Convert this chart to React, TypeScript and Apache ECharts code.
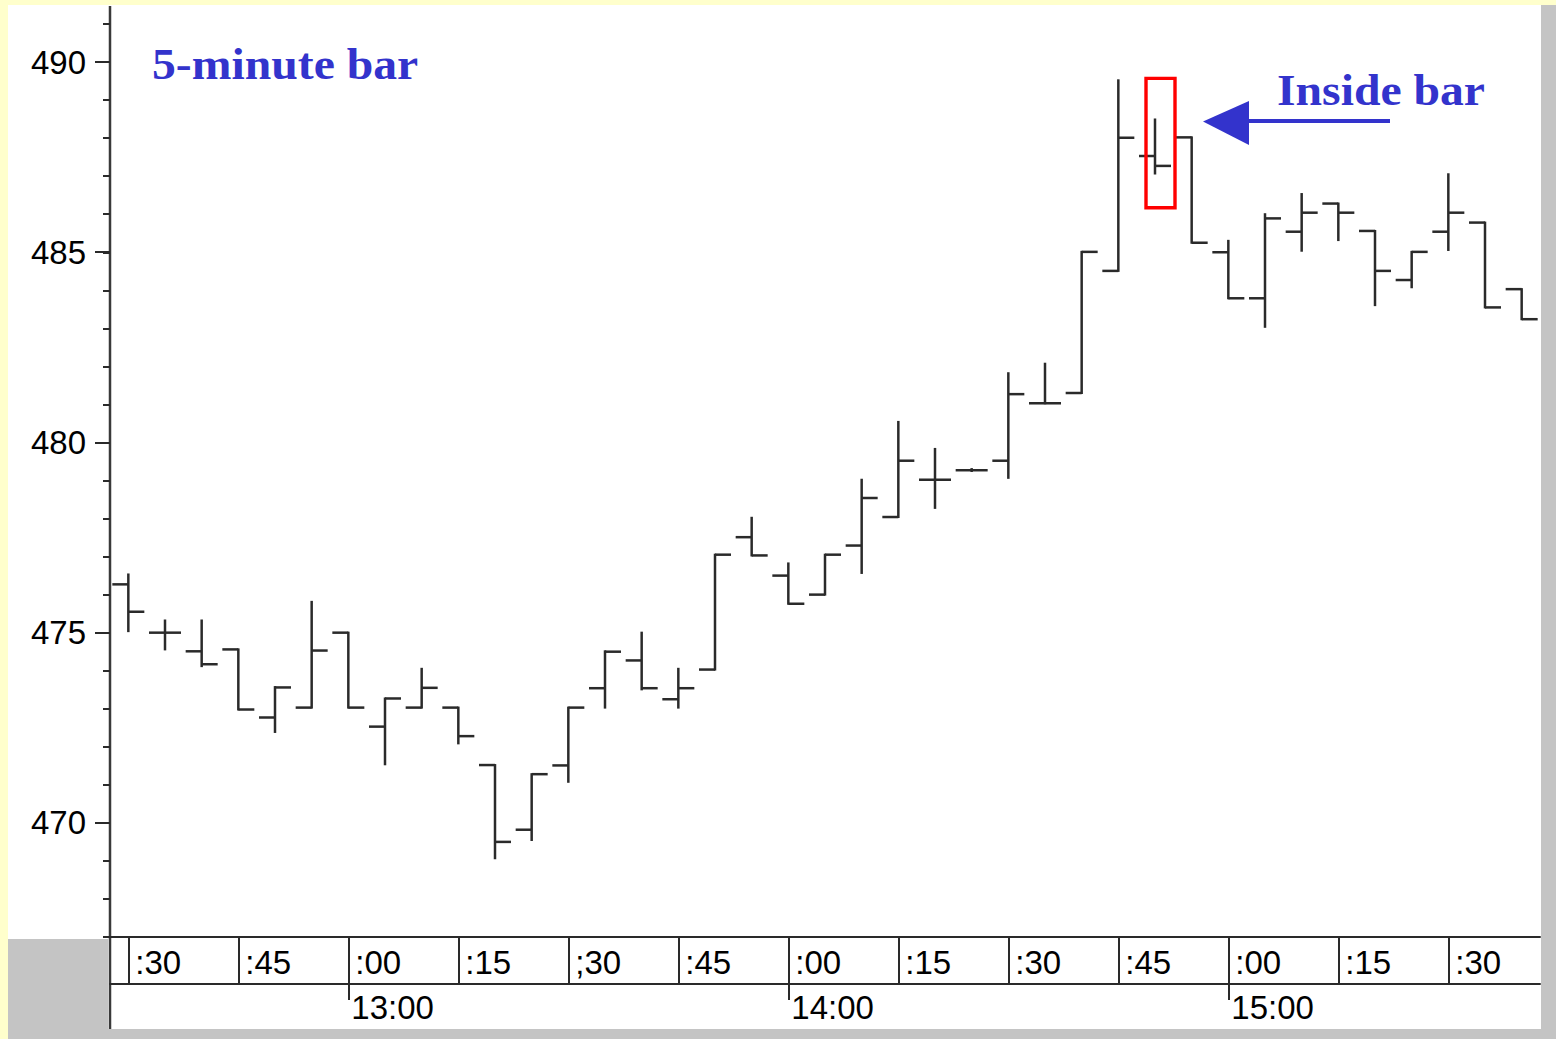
import React, { useEffect, useRef } from "react";
import * as echarts from "echarts";

// 5-minute bars, 12:30 – 15:40
const times = [
  "12:30", "12:35", "12:40", "12:45", "12:50", "12:55",
  "13:00", "13:05", "13:10", "13:15", "13:20", "13:25",
  "13:30", "13:35", "13:40", "13:45", "13:50", "13:55",
  "14:00", "14:05", "14:10", "14:15", "14:20", "14:25",
  "14:30", "14:35", "14:40", "14:45", "14:50", "14:55",
  "15:00", "15:05", "15:10", "15:15", "15:20", "15:25",
  "15:30", "15:35", "15:40",
];

const opens = [
  476.27, 475.0, 474.51, 474.56, 472.77, 473.03,
  475.0, 472.53, 473.03, 473.03, 471.52, 469.82,
  471.51, 473.54, 474.27, 473.25, 474.03, 477.51,
  476.5, 476.0, 477.29, 478.04, 479.02, 479.27,
  479.52, 481.03, 481.3, 484.51, 487.53, 488.02,
  485.0, 483.79, 485.54, 486.28, 485.56, 484.27,
  485.54, 485.78, 484.03,
];
const highs = [
  476.53, 475.32, 475.32, 474.56, 473.57, 475.81,
  475.0, 473.27, 474.05, 473.03, 471.52, 471.28,
  473.03, 474.51, 475.0, 474.05, 477.05, 478.02,
  476.82, 477.05, 479.02, 480.54, 479.83, 479.3,
  481.82, 482.07, 485.01, 489.52, 488.49, 488.02,
  485.3, 486.0, 486.53, 486.28, 485.56, 485.01,
  487.05, 485.78, 484.03,
];
const lows = [
  475.04, 474.56, 474.12, 472.98, 472.39, 473.03,
  473.03, 471.54, 473.03, 472.09, 469.07, 469.55,
  471.08, 473.03, 473.51, 473.03, 474.03, 477.03,
  475.76, 476.0, 476.57, 478.04, 478.28, 479.25,
  479.07, 481.03, 481.3, 484.51, 487.07, 485.25,
  483.79, 483.04, 485.04, 485.32, 483.61, 484.08,
  485.06, 483.55, 483.24,
];
const closes = [
  475.55, 475.0, 474.17, 472.98, 473.56, 474.53,
  473.03, 473.27, 473.55, 472.28, 469.5, 471.28,
  473.03, 474.5, 473.54, 473.54, 477.05, 477.03,
  475.76, 477.05, 478.54, 479.52, 479.02, 479.27,
  481.27, 481.03, 485.01, 488.01, 487.27, 485.25,
  483.79, 485.89, 486.04, 486.04, 484.51, 485.01,
  486.04, 483.55, 483.24,
];

// bottom axis tick labels (as printed in the original, including its ";30")
const minuteTickLabels = [":30", ":45", ":00", ":15", ";30", ":45", ":00", ":15", ":30", ":45", ":00", ":15", ":30"];
const hourLabels = ["13:00", "14:00", "15:00"];

// annotation
const insideBarIndex = 28;
const insideBoxTop = 489.57;
const insideBoxBottom = 486.17;

const INK = "#2a2a2a";
const BLUE = "#3333cc";
const YELLOW = "#ffffcc";
const GRAY = "#c4c4c4";
const SANS = '"Liberation Sans", Arial, sans-serif';
const SERIF = '"Liberation Serif", "Times New Roman", serif';

export default function App() {
  const ref = useRef<HTMLDivElement>(null);

  useEffect(() => {
    document.body.style.margin = "0";
    if (!ref.current) return;
    const chart = echarts.init(ref.current, undefined, { renderer: "svg" });

    const ohlcData = times.map((t, i) => [i, opens[i], highs[i], lows[i], closes[i]]);

    const gridLeft = 110;
    const gridWidth = 1430;
    const g0Top = 24;
    const g0Height = 913; // 491 -> 467
    const unit = g0Height / 24;
    const g1Top = g0Top + unit * 1; // 490
    const g1Height = unit * 20; // 490 -> 470

    const option: any = {
      animation: false,
      backgroundColor: "#ffffff",
      grid: [
        { left: gridLeft, width: gridWidth, top: g0Top, height: g0Height, containLabel: false },
        { left: gridLeft, width: gridWidth, top: g1Top, height: g1Height, containLabel: false },
      ],
      xAxis: [
        {
          type: "category",
          gridIndex: 0,
          position: "bottom",
          data: times,
          boundaryGap: true,
          axisLine: { show: true, lineStyle: { color: INK, width: 2 } },
          axisTick: {
            show: true,
            alignWithLabel: true,
            length: 47,
            interval: (index: number) => index % 3 === 0,
            lineStyle: { color: INK, width: 2 },
          },
          axisLabel: {
            show: true,
            interval: (index: number) => index % 3 === 0,
            formatter: (value: string) => {
              const i = times.indexOf(value);
              return minuteTickLabels[Math.round(i / 3)] ?? "";
            },
            align: "left",
            verticalAlign: "middle",
            padding: [0, 0, 0, 7],
            margin: 25,
            fontSize: 33,
            fontFamily: SANS,
            color: "#000",
          },
          splitLine: { show: false },
        },
        {
          type: "category",
          gridIndex: 0,
          position: "bottom",
          offset: 47,
          data: times,
          boundaryGap: true,
          axisLine: { show: true, lineStyle: { color: INK, width: 2 } },
          axisTick: {
            show: true,
            alignWithLabel: true,
            length: 16,
            interval: (index: number) => times[index].endsWith(":00"),
            lineStyle: { color: INK, width: 2 },
          },
          axisLabel: {
            show: true,
            interval: (index: number) => times[index].endsWith(":00"),
            formatter: (value: string) => {
              const h = hourLabels.indexOf(value);
              return h >= 0 ? hourLabels[h] : "";
            },
            align: "left",
            verticalAlign: "middle",
            padding: [0, 0, 0, 3],
            margin: 23,
            fontSize: 33,
            fontFamily: SANS,
            color: "#000",
          },
          splitLine: { show: false },
        },
        { type: "value", gridIndex: 1, show: false, min: 0, max: 1 },
      ],
      yAxis: [
        {
          type: "value",
          gridIndex: 0,
          min: 467,
          max: 491,
          interval: 1,
          axisLine: { show: false },
          axisTick: { show: true, length: 7, lineStyle: { color: INK, width: 2 } },
          axisLabel: { show: false },
          splitLine: { show: false },
        },
        {
          type: "value",
          gridIndex: 1,
          min: 470,
          max: 490,
          interval: 5,
          axisLine: { show: false },
          axisTick: { show: true, length: 15, lineStyle: { color: INK, width: 2 } },
          axisLabel: {
            show: true,
            margin: 24,
            fontSize: 33,
            fontFamily: SANS,
            color: "#000",
          },
          splitLine: { show: false },
        },
      ],
      series: [
        {
          type: "custom",
          name: "5-minute bar",
          xAxisIndex: 0,
          yAxisIndex: 0,
          silent: true,
          encode: { x: 0, y: [1, 2, 3, 4] },
          data: ohlcData,
          renderItem: (params: any, api: any) => {
            const idx = api.value(0);
            const o = api.coord([idx, api.value(1)]);
            const h = api.coord([idx, api.value(2)]);
            const l = api.coord([idx, api.value(3)]);
            const c = api.coord([idx, api.value(4)]);
            const x = h[0];
            const style = { stroke: INK, lineWidth: 2.5 };
            return {
              type: "group",
              children: [
                { type: "line", shape: { x1: x, y1: h[1] - 1, x2: x, y2: l[1] + 1 }, style },
                { type: "line", shape: { x1: x - 16, y1: o[1], x2: x, y2: o[1] }, style },
                { type: "line", shape: { x1: x, y1: c[1], x2: x + 16, y2: c[1] }, style },
              ],
            };
          },
          z: 3,
        },
        {
          type: "custom",
          name: "Inside bar box",
          xAxisIndex: 0,
          yAxisIndex: 0,
          silent: true,
          encode: { x: 0, y: [1, 2] },
          data: [[insideBarIndex, insideBoxTop, insideBoxBottom]],
          renderItem: (params: any, api: any) => {
            const idx = api.value(0);
            const t = api.coord([idx, api.value(1)]);
            const b = api.coord([idx, api.value(2)]);
            return {
              type: "rect",
              shape: { x: t[0] - 9, y: t[1], width: 29, height: b[1] - t[1] },
              style: { fill: "none", stroke: "#ff0000", lineWidth: 3.4 },
            };
          },
          z: 4,
        },
      ],
      graphic: [
        { type: "rect", silent: true, shape: { x: 0, y: 0, width: 1556, height: 5 }, style: { fill: YELLOW } },
        { type: "rect", silent: true, shape: { x: 0, y: 0, width: 8, height: 1039 }, style: { fill: YELLOW } },
        { type: "rect", silent: true, shape: { x: 1541, y: 5, width: 15, height: 1034 }, style: { fill: GRAY } },
        { type: "rect", silent: true, shape: { x: 108, y: 1029, width: 1433, height: 10 }, style: { fill: GRAY } },
        { type: "rect", silent: true, shape: { x: 8, y: 939, width: 100, height: 100 }, style: { fill: GRAY } },
        { type: "line", silent: true, shape: { x1: 110, y1: 6, x2: 110, y2: 1029 }, style: { stroke: "#3a3a3a", lineWidth: 2.5 } },
        {
          type: "text",
          silent: true,
          x: 152,
          y: 64,
          scaleX: 1.06,
          style: {
            text: "5-minute bar",
            fontSize: 45,
            fontWeight: "bold",
            fontFamily: SERIF,
            fill: BLUE,
            verticalAlign: "middle",
            align: "left",
          },
        },
        {
          type: "text",
          silent: true,
          x: 1277,
          y: 90,
          scaleX: 1.06,
          style: {
            text: "Inside bar",
            fontSize: 45,
            fontWeight: "bold",
            fontFamily: SERIF,
            fill: BLUE,
            verticalAlign: "middle",
            align: "left",
          },
        },
        {
          type: "line",
          silent: true,
          shape: { x1: 1244, y1: 121, x2: 1390, y2: 121 },
          style: { stroke: BLUE, lineWidth: 4 },
        },
        {
          type: "polygon",
          silent: true,
          shape: { points: [[1203, 121.5], [1249, 101], [1249, 145]] },
          style: { fill: BLUE },
        },
      ],
    };

    chart.setOption(option);
    return () => chart.dispose();
  }, []);

  return (
    <div
      ref={ref}
      style={{ position: "absolute", left: 0, top: 0, width: 1556, height: 1039 }}
    />
  );
}
